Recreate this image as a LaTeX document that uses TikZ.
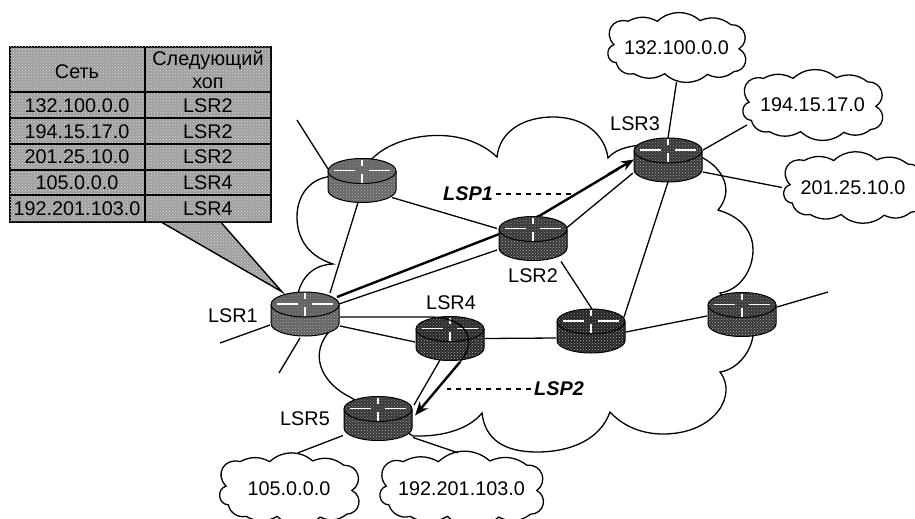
\documentclass[tikz,border=0pt]{standalone}
\usepackage{fontspec}
\setmainfont{Liberation Sans}
\usetikzlibrary{calc,patterns,arrows.meta}
\pgfdeclarelayer{bg}
\pgfsetlayers{bg,main}
\tikzset{
  routerbox/.style={minimum width=68pt,minimum height=44pt,inner sep=0pt,draw=none},
  cloudbox/.style={inner sep=0pt,draw=none},
  link/.style={line width=1.3pt,black},
  thicklink/.style={line width=2.4pt,black},
  lsp/.style={line width=1.2pt,dash pattern=on 5pt off 5pt},
  netcloud/.style={line width=1.3pt,black},
  txt/.style={font=\fontsize{19.8}{22}\selectfont,inner sep=0pt},
  lsptxt/.style={font=\fontsize{19.8}{22}\selectfont\bfseries\itshape,inner sep=0pt},
  tablefill/.style={fill=black!38,postaction={pattern=crosshatch dots,pattern color=white!85!black}},
  tablebox/.style={minimum width=261pt,minimum height=175pt,inner sep=0pt,tablefill,draw=black,line width=1.4pt},
  rule/.style={line width=1.4pt,black}
}
\newcommand{\routerat}[4]{%
  \node[routerbox] (#1) at (#2,#3) {};
  \begin{scope}[shift={(#2,#3)}]
    \path[fill=black!#4,postaction={pattern=crosshatch dots,pattern color=white!70!black}]
      (-34,-9.5) -- (-34,9.5) .. controls (-34,16.4) and (-18.8,22) .. (0,22)
      .. controls (18.8,22) and (34,16.4) .. (34,9.5) -- (34,-9.5) -- cycle;
    \draw[line width=1pt]
      (-34,-9.5) -- (-34,9.5) .. controls (-34,16.4) and (-18.8,22) .. (0,22)
      .. controls (18.8,22) and (34,16.4) .. (34,9.5) -- (34,-9.5);
    \path[fill=black!#4!white,postaction={pattern=crosshatch dots,pattern color=white!55!black}] (0,-9.5) ellipse [x radius=34pt,y radius=12.5pt];
    \draw[line width=1pt] (0,-9.5) ellipse [x radius=34pt,y radius=12.5pt];
    \draw[white,line width=1.3pt] (-28,-10) -- (-7,-10) (7,-10) -- (28,-10);
    \draw[white,line width=2.6pt] (0,-21) -- (0,-15) (0,-7) -- (0,2);
  \end{scope}}
\newcommand{\netcloudat}[6]{% name x0 y0 w h text
  \node[cloudbox,txt,minimum width=#4pt,minimum height=#5pt] (#1) at ({#2+#4/2},{#3+#5/2}) {#6};
  \begin{scope}[shift={(#2,#3)},x=#4pt,y=-#5pt]
    \draw[netcloud] (0.075,0.46) to[bend left=75,looseness=1.5] (0.17,0.12) to[bend left=28] (0.37,0.12)
      to[bend left=42] (0.66,0.11) to[bend left=30] (0.87,0.17) to[bend left=75,looseness=1.4] (0.925,0.52)
      to[bend left=75,looseness=1.4] (0.89,0.85) to[bend left=32] (0.71,0.89) to[bend left=42] (0.42,0.88)
      to[bend left=30] (0.21,0.88) to[bend left=45] (0.09,0.72) to[bend left=80,looseness=1.4] cycle;
  \end{scope}}
\begin{document}
\begin{tikzpicture}[x=1pt,y=-1pt]
\useasboundingbox (0,0) rectangle (915,519);
% routers
\routerat{r0}{362}{180.5}{60}
\routerat{lsr1}{305}{314}{62}
\routerat{lsr2}{533}{238.5}{78}
\routerat{lsr3}{668}{160}{78}
\routerat{lsr4}{450}{338.5}{84}
\routerat{lsr5}{378}{418.5}{78}
\routerat{r6}{591}{331}{86}
\routerat{r7}{742}{314.5}{78}
% network clouds
\netcloudat{c132}{603}{13}{147}{69}{132.100.0.0}
\netcloudat{c194}{738}{70}{149}{70}{194.15.17.0}
\netcloudat{c201}{779}{152}{148}{71}{201.25.10.0}
\netcloudat{c105}{215}{453}{148}{72}{105.0.0.0}
\netcloudat{c192}{373}{453}{177}{72}{192.201.103.0}
% table
\node[tablebox] (tbl) at (140.5,134.5) {};
\draw[rule] (145,47) -- (145,222);
\foreach \yy in {92,118,144,170,195} \draw[rule] (10,\yy) -- (271,\yy);
\node[txt] (h1) at (77,72) {Сеть};
\node[txt] (h2) at (208,60) {Следующий};
\node[txt] (h3) at (208,83) {хоп};
\node[txt] (n1) at (77,106) {132.100.0.0};
\node[txt] (n2) at (77,132) {194.15.17.0};
\node[txt] (n3) at (77,157) {201.25.10.0};
\node[txt] (n4) at (77,183) {105.0.0.0};
\node[txt] (n5) at (77,209) {192.201.103.0};
\node[txt] (m1) at (208,106) {LSR2};
\node[txt] (m2) at (208,132) {LSR2};
\node[txt] (m3) at (208,157) {LSR2};
\node[txt] (m4) at (208,183) {LSR4};
\node[txt] (m5) at (208,209) {LSR4};
% labels
\node[txt] (t1) at (233,316) {LSR1};
\node[txt] (t2) at (533,276) {LSR2};
\node[txt] (t3) at (635,124) {LSR3};
\node[txt] (t4) at (451,303) {LSR4};
\node[txt] (t5) at (305,419) {LSR5};
\node[lsptxt] (p1) at (468,194) {LSP1};
\node[lsptxt] (p2) at (559,389) {LSP2};
\coordinate (p1end) at (577,194);
\coordinate (p2end) at (447,389);
\coordinate (f0) at (297,120);
\coordinate (f1) at (220,343);
\coordinate (f2) at (279,373);
\coordinate (f7) at (828,292);
\begin{pgfonlayer}{bg}
  % large network cloud
  \draw[netcloud] (373,158) .. controls (395,135) and (460,122) .. (497,157)
    .. controls (500,130) and (525,117) .. (553,117)
    .. controls (585,117) and (605,135) .. (608,158)
    .. controls (615,150) and (625,147) .. (640,145)
    -- (690,150) -- (703,158)
    .. controls (722,168) and (735,190) .. (718,210)
    .. controls (745,218) and (753,235) .. (753,250)
    .. controls (753,270) and (740,290) .. (720,293)
    -- (753,336)
    .. controls (750,355) and (735,370) .. (720,372)
    .. controls (738,395) and (715,434) .. (663,434)
    .. controls (640,434) and (622,425) .. (610,412)
    .. controls (600,440) and (570,452) .. (537,452)
    .. controls (505,452) and (485,440) .. (482,413)
    .. controls (470,428) and (445,437) .. (413,436)
    -- (350,397)
    .. controls (325,385) and (308,358) .. (328,333)
    -- (298,293)
    .. controls (302,278) and (312,265) .. (333,264)
    .. controls (305,255) and (297,235) .. (297,217)
    .. controls (297,195) and (310,180) .. (327,177)
    -- cycle;
  % callout
  \path[tablefill] ($(tbl.south west)+(153,0)$) -- ($(tbl.south west)+(212,0)$) -- ($(lsr1.north)+(-23,0)$) -- cycle;
  \draw[rule] ($(tbl.south west)+(153,0)$) -- ($(lsr1.north)+(-23,0)$) -- ($(tbl.south west)+(212,0)$);
  % links
  \draw[link] (f0) -- ($(r0)+(-33,-10)$);
  \draw[link] ($(r0)+(-4,22)$) -- ($(lsr1)+(25,-21)$);
  \draw[link] ($(r0)+(30,17)$) -- ($(lsr2)+(-36,-10)$);
  \draw[link] (f1) -- ($(lsr1)+(-35,11)$);
  \draw[link] (f2) -- ($(lsr1)+(-5,24)$);
  \draw[link] ($(lsr1)+(34,-10)$) -- ($(lsr2)+(-36,11.5)$);
  \draw[link] ($(lsr2)+(34,-11)$) -- ($(lsr3)+(-35,13)$);
  \draw[link] ($(lsr1)+(35,12)$) -- ($(lsr4)+(-35,3.5)$);
  \draw[link] ($(lsr4)+(35,0)$) -- ($(r6)+(-35,7)$);
  \draw[link] ($(r6)+(35,1)$) -- ($(r7)+(-35,1.5)$);
  \draw[link] ($(r7)+(35,-7.5)$) -- (f7);
  \draw[link] ($(r6)+(1,-22)$) -- ($(lsr2)+(28,23)$);
  \draw[link] ($(r6)+(33,-14)$) -- ($(lsr3)+(0,22)$);
  \draw[link] ($(lsr3)+(0,-22)$) -- (c132.south);
  \draw[link] ($(lsr3)+(35,-10)$) -- ($(c194.center)+(-65.5,20)$);
  \draw[link] ($(lsr3)+(35,12)$) -- ($(c201.west)+(3,0)$);
  \draw[link] ($(lsr5)+(-35,17)$) -- ($(c105.north)+(9,0)$);
  \draw[link] ($(lsr5)+(35,19)$) -- ($(c192.north)+(-3.5,0)$);
  \draw[link] ($(lsr4)+(-10,21.5)$) -- ($(lsr5)+(36,-13.5)$);
  % LSP1
  \draw[thicklink] ($(lsr1)+(32,-17)$) -- ($(lsr2)+(-35,-4)$) -- ($(lsr2)+(7,-23)$) -- ($(lsr3)+(-50,9)$);
  \draw[thicklink,-{Stealth[length=13pt,width=10pt]}] ($(lsr3)+(-60,14.5)$) -- ($(lsr3)+(-34,-0.5)$);
  \draw[lsp] ($(p1.east)+(3,0)$) -- (p1end);
  \draw[lsp] ($(p2.west)+(-3,0)$) -- (p2end);
\end{pgfonlayer}
% LSP2 over its routers
\draw[link] ($(lsr1)+(35,3)$) -- ($(lsr4)+(-23,-21.5)$) .. controls ($(lsr4)+(0,-22)$) and ($(lsr4)+(15,-14)$) .. ($(lsr4)+(18,-2)$)
  .. controls ($(lsr4)+(21,6)$) and ($(lsr4)+(15,18)$) .. ($(lsr4)+(10,23.5)$);
\draw[thicklink,-{Stealth[length=14pt,width=11pt]}] ($(lsr4)+(10,23.5)$) -- ($(lsr5)+(37,-3)$);
\end{tikzpicture}
\end{document}
